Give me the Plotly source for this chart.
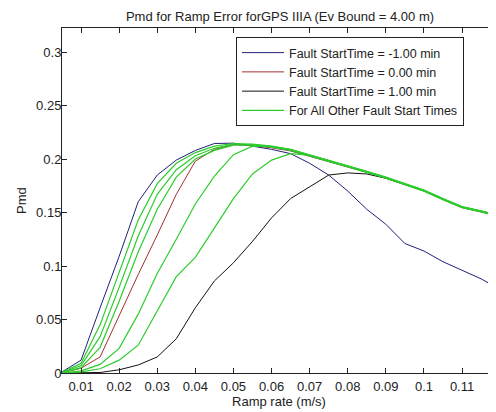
import plotly.graph_objects as go

ramp_rate = [0.005, 0.010, 0.015, 0.020, 0.025, 0.030, 0.035, 0.040, 0.045, 0.050,
             0.055, 0.060, 0.065, 0.070, 0.075, 0.080, 0.085, 0.090, 0.095, 0.100,
             0.105, 0.110, 0.115, 0.120]

pmd_start_m100 = [0.001, 0.012, 0.061, 0.109, 0.160, 0.185, 0.199, 0.208, 0.2145, 0.2148,
                  0.212, 0.209, 0.205, 0.196, 0.185, 0.170, 0.153, 0.139, 0.121, 0.114,
                  0.104, 0.096, 0.088, 0.078]
pmd_start_000 = [0.0002, 0.0045, 0.015, 0.054, 0.092, 0.129, 0.167, 0.198, 0.209, 0.2135,
                 0.2125, 0.2105, 0.2075, 0.2025, 0.1975, 0.193, 0.1875, 0.182, 0.176, 0.170,
                 0.162, 0.1545, 0.1505, 0.146]
pmd_start_p100 = [0.0, 0.0, 0.0005, 0.003, 0.0075, 0.015, 0.032, 0.061, 0.086, 0.103,
                  0.123, 0.145, 0.163, 0.174, 0.185, 0.187, 0.186, 0.182, 0.1765, 0.1705,
                  0.1625, 0.155, 0.151, 0.1465]

pmd_other_1 = [0.0005, 0.009, 0.045, 0.094, 0.143, 0.177, 0.196, 0.206, 0.212, 0.2145,
               0.2135, 0.2115, 0.2085, 0.2035, 0.1985, 0.1935, 0.188, 0.1825, 0.1765, 0.1705,
               0.1625, 0.155, 0.151, 0.1465]
pmd_other_2 = [0.0003, 0.007, 0.034, 0.080, 0.128, 0.167, 0.190, 0.203, 0.210, 0.214,
               0.2140, 0.2120, 0.2090, 0.2040, 0.1990, 0.1940, 0.1885, 0.1830, 0.1770, 0.1710,
               0.1630, 0.1555, 0.1515, 0.1470]
pmd_other_3 = [0.0002, 0.005, 0.024, 0.067, 0.113, 0.153, 0.183, 0.200, 0.208, 0.213,
               0.2130, 0.2110, 0.2080, 0.2030, 0.1980, 0.1930, 0.1875, 0.1820, 0.1760, 0.1700,
               0.1620, 0.1545, 0.1505, 0.1460]
pmd_other_4 = [0.0, 0.002, 0.008, 0.023, 0.055, 0.093, 0.125, 0.158, 0.184, 0.204,
               0.212, 0.2118, 0.2088, 0.2038, 0.1988, 0.1938, 0.1883, 0.1828, 0.1768, 0.1708,
               0.1628, 0.1553, 0.1513, 0.1468]
pmd_other_5 = [0.0, 0.001, 0.004, 0.012, 0.026, 0.058, 0.090, 0.108, 0.135, 0.163,
               0.186, 0.199, 0.205, 0.2035, 0.1985, 0.1935, 0.1880, 0.1825, 0.1765, 0.1705,
               0.1625, 0.1550, 0.1510, 0.1465]

x_tick_vals = [0.01, 0.02, 0.03, 0.04, 0.05, 0.06, 0.07, 0.08, 0.09, 0.10, 0.11]
x_tick_text = ["0.01", "0.02", "0.03", "0.04", "0.05", "0.06", "0.07", "0.08", "0.09", "0.1", "0.11"]
y_tick_vals = [0, 0.05, 0.10, 0.15, 0.20, 0.25, 0.30]
y_tick_text = ["0", "0.05", "0.1", "0.15", "0.2", "0.25", "0.3"]

FONT = "Arial, Liberation Sans, sans-serif"
TXT = "#222222"
fig = go.Figure()

fig.add_trace(go.Scatter(x=ramp_rate, y=pmd_start_m100, mode="lines",
                         name="Fault StartTime = -1.00 min",
                         line=dict(color="#202078", width=1)))
fig.add_trace(go.Scatter(x=ramp_rate, y=pmd_start_000, mode="lines",
                         name="Fault StartTime = 0.00 min",
                         line=dict(color="#a03030", width=1)))
fig.add_trace(go.Scatter(x=ramp_rate, y=pmd_start_p100, mode="lines",
                         name="Fault StartTime = 1.00 min",
                         line=dict(color="#111111", width=1)))

others = [pmd_other_1, pmd_other_2, pmd_other_3, pmd_other_4, pmd_other_5]
for i, ys in enumerate(others):
    fig.add_trace(go.Scatter(x=ramp_rate, y=ys, mode="lines",
                             name="For All Other Fault Start Times",
                             showlegend=(i == 0), legendgroup="other",
                             line=dict(color="#2ccc2c", width=1.2)))

# The page body has an 8px default margin, so the figure sits at (8, 8).
OFF = 8
W, H = 496 - OFF, 412 - OFF
L = 62 - OFF
T = 28 - OFF
B = H - (373 - OFF)
pw = W - L
ph = H - T - B

fig.update_layout(
    width=W, height=H,
    margin=dict(l=L, r=0, t=T, b=B, pad=0),
    paper_bgcolor="white", plot_bgcolor="white",
    font=dict(family=FONT, size=13, color=TXT),
    title=dict(text="Pmd for Ramp Error forGPS IIIA (Ev Bound = 4.00 m)",
               x=(280 - OFF) / W, xanchor="center", y=1 - 8 / H, yanchor="middle",
               font=dict(size=13, color=TXT)),
    legend=dict(x=(236 - OFF - L) / pw, y=(373 - 37) / ph, xanchor="left", yanchor="top",
                bgcolor="white", bordercolor=TXT, borderwidth=1, itemwidth=42,
                font=dict(size=12.5, color=TXT), tracegroupgap=0),
    showlegend=True,
)
fig.update_xaxes(range=[0.005, 0.005 + pw / 3810.0], tickvals=x_tick_vals, ticktext=x_tick_text,
                 ticks="inside", ticklen=5, tickcolor=TXT,
                 showline=True, linecolor=TXT, linewidth=1, mirror="ticks",
                 showgrid=False, zeroline=False,
                 title=dict(text="Ramp rate (m/s)", standoff=3, font=dict(size=13)),
                 tickfont=dict(size=13), ticklabelstandoff=1)
fig.update_yaxes(range=[0, ph / 1070.0], tickvals=y_tick_vals, ticktext=y_tick_text,
                 ticks="inside", ticklen=5, tickcolor=TXT,
                 showline=True, linecolor=TXT, linewidth=1, mirror=False,
                 showgrid=False, zeroline=False,
                 title=dict(text="Pmd", standoff=6, font=dict(size=13)),
                 tickfont=dict(size=13), ticklabelstandoff=-3)

fig.write_html("out.html")
